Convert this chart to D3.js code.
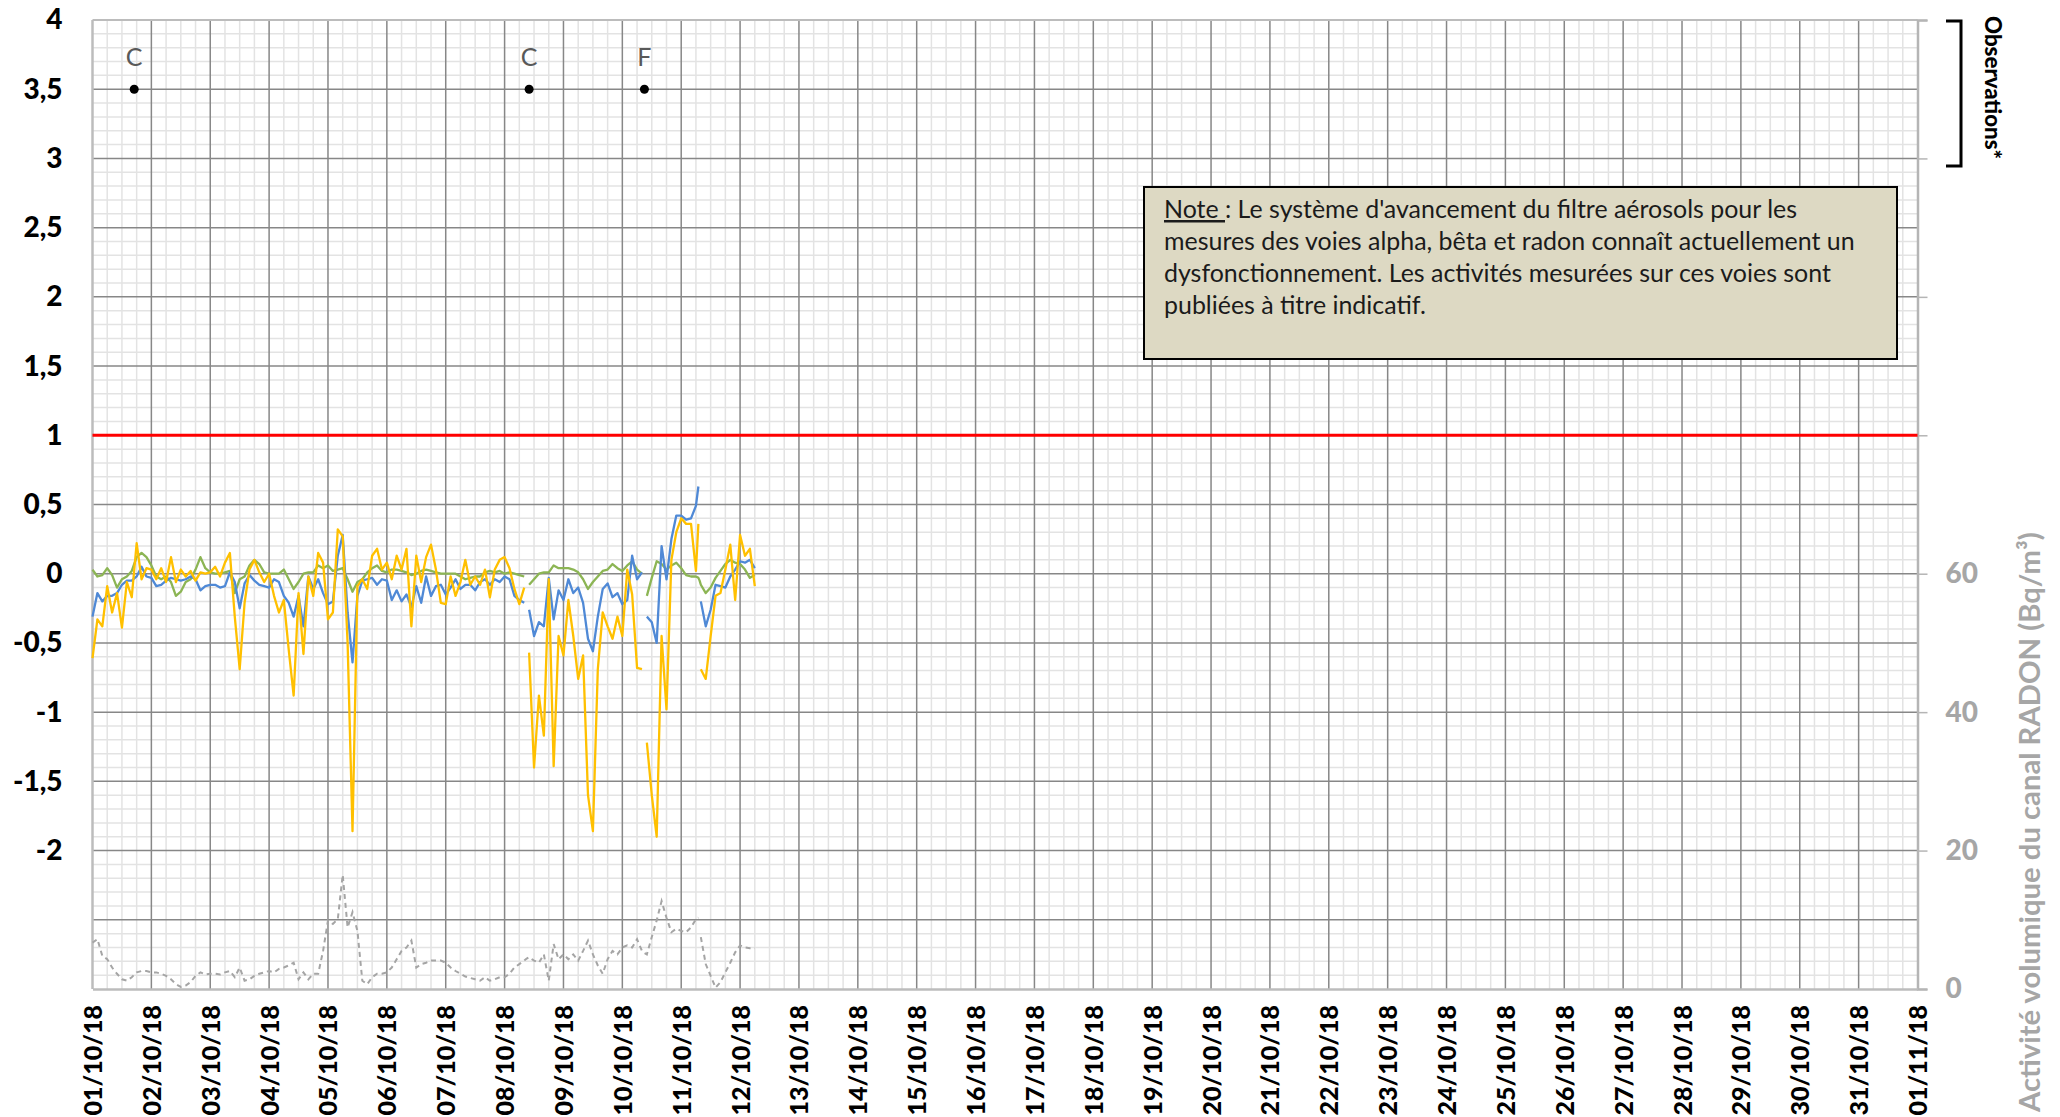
<!DOCTYPE html>
<html>
<head>
<meta charset="utf-8">
<script src="https://cdn.jsdelivr.net/npm/d3@7"></script>
<style>
  html, body { margin: 0; padding: 0; background: #ffffff; }
  svg { display: block; }
  text { font-family: Lato, "Open Sans", sans-serif; }
</style>
</head>
<body>
<svg id="chart" width="2060" height="1117"></svg>
<script>
// ---- Measurement times (hours since 01/10/18 00:00) ----
const hours = [
  0,2,4,6,8,10,12,14,16,18,20,22,24,26,28,30,32,34,36,38,40,42,44,46,48,
  50,52,54,56,58,60,62,64,66,68,70,72,74,76,78,80,82,84,86,88,90,92,94,96,
  98,100,102,104,106,108,110,112,114,116,118,120,122,124,126,128,130,132,134,136,138,140,142,144,
  146,148,150,152,154,156,158,160,162,164,166,168,170,172,174,176,177,
  178,180,182,184,186,188,190,192,194,196,198,200,202,204,206,208,210,212,214,216,218,220,222,224,225,
  226,228,230,232,234,236,238,240,242,244,246,247,247.5,
  248,250,252,254,256,258,260,262,264,266,268,270
];

// Blue channel (left axis)
const blueChannel = [
  -0.31,-0.14,-0.20,-0.16,-0.16,-0.14,-0.08,-0.05,-0.05,-0.02,0.05,-0.02,-0.03,-0.09,-0.08,-0.05,-0.03,-0.04,-0.05,-0.04,-0.02,-0.04,-0.12,-0.09,-0.08,
  -0.08,-0.10,-0.09,0.01,-0.06,-0.25,-0.07,-0.01,-0.05,-0.08,-0.09,-0.10,-0.04,-0.06,-0.16,-0.21,-0.31,-0.16,-0.38,-0.02,-0.11,-0.04,-0.14,-0.22,
  -0.20,0.13,0.28,-0.28,-0.64,-0.16,-0.05,-0.04,-0.03,-0.08,-0.04,-0.05,-0.19,-0.12,-0.20,-0.15,-0.24,-0.09,-0.21,-0.02,-0.16,-0.09,-0.08,-0.15,
  -0.10,-0.04,-0.11,-0.08,-0.08,-0.12,-0.06,-0.04,-0.08,-0.04,-0.06,-0.02,-0.04,-0.16,-0.19,-0.21,null,
  -0.26,-0.45,-0.35,-0.38,-0.03,-0.33,-0.12,-0.19,-0.04,-0.14,-0.10,-0.21,-0.47,-0.56,-0.31,-0.11,-0.07,-0.17,-0.14,-0.22,-0.19,0.13,-0.04,0.01,null,
  -0.31,-0.35,-0.50,0.20,-0.04,0.25,0.42,0.42,0.39,0.40,0.49,0.63,null,
  -0.20,-0.38,-0.26,-0.08,-0.09,-0.10,-0.02,0.03,0.09,0.08,0.10,0.04
];

// Yellow channel (left axis)
const yellowChannel = [
  -0.61,-0.33,-0.38,-0.09,-0.28,-0.14,-0.39,-0.06,-0.17,0.22,-0.04,0.04,0.03,-0.04,0.04,-0.06,0.12,-0.06,0.03,-0.02,0.02,-0.05,0.01,0.00,0.01,
  0.05,-0.02,0.08,0.15,-0.31,-0.69,-0.21,0.03,0.10,0.01,-0.06,0.00,-0.16,-0.28,-0.19,-0.55,-0.88,-0.14,-0.58,-0.02,-0.16,0.15,0.08,-0.33,
  -0.28,0.32,0.27,-0.50,-1.86,-0.09,-0.04,-0.11,0.13,0.18,0.03,0.08,-0.04,0.13,0.03,0.18,-0.38,0.13,-0.06,0.12,0.21,0.03,-0.21,-0.22,
  -0.02,-0.16,-0.06,0.10,-0.08,-0.02,-0.08,0.03,-0.17,0.03,0.10,0.12,0.04,-0.11,-0.22,-0.10,null,
  -0.57,-1.40,-0.88,-1.17,-0.04,-1.39,-0.45,-0.59,-0.19,-0.45,-0.76,-0.59,-1.60,-1.86,-0.69,-0.28,-0.38,-0.47,-0.31,-0.45,0.03,-0.15,-0.68,-0.69,null,
  -1.22,-1.60,-1.90,-0.45,-0.98,0.10,0.30,0.40,0.36,0.36,0.02,0.36,null,
  -0.69,-0.76,-0.45,-0.16,-0.14,0.03,0.21,-0.19,0.28,0.13,0.18,-0.09
];

// Green channel (left axis)
const greenChannel = [
  0.03,-0.02,-0.01,0.04,-0.01,-0.10,-0.04,-0.02,0.02,0.12,0.15,0.12,0.06,-0.02,-0.04,-0.02,-0.06,-0.16,-0.13,-0.06,-0.04,0.03,0.12,0.04,0.01,
  0.00,0.00,0.01,0.02,-0.14,-0.04,-0.02,0.06,0.10,0.07,0.01,0.00,0.00,0.00,0.03,-0.04,-0.11,-0.06,0.00,0.01,0.01,0.06,0.04,0.06,
  0.02,0.03,0.04,-0.04,-0.13,-0.06,-0.04,0.01,0.04,0.06,0.02,0.01,0.03,0.03,0.02,0.01,-0.01,0.00,0.02,0.03,0.02,0.01,0.00,0.00,
  0.00,0.00,-0.02,-0.04,-0.03,-0.02,-0.02,0.01,0.02,0.01,0.02,0.00,0.01,0.00,-0.01,-0.02,null,
  -0.08,-0.04,0.00,0.01,0.01,0.06,0.04,0.04,0.04,0.03,0.01,-0.04,-0.11,-0.06,-0.02,0.02,0.03,0.07,0.04,0.02,0.06,0.09,0.03,0.00,null,
  -0.16,-0.03,0.09,0.07,0.03,0.06,0.08,0.04,-0.01,-0.02,-0.02,-0.03,-0.05,
  -0.08,-0.14,-0.10,-0.03,0.02,0.07,0.10,0.08,0.07,0.03,-0.03,-0.01
];

// Radon channel, Bq/m³ (right axis)
const radonChannel = [
  6.7,7.2,4.8,4.3,3.1,2.2,1.4,1.2,1.7,2.4,2.6,2.6,2.4,2.4,2.2,1.9,1.4,0.7,0.3,0.5,1.0,1.9,2.4,2.1,2.2,
  2.2,2.1,2.4,2.6,1.7,3.1,1.2,1.4,1.9,2.2,2.4,2.6,2.4,2.9,3.1,3.4,3.8,1.4,2.4,1.4,2.2,2.2,5.5,9.9,
  9.4,10.1,16.5,8.9,11.1,8.4,1.2,0.7,1.7,2.2,2.2,2.4,3.1,4.3,5.5,6.0,7.0,3.1,3.6,3.8,4.1,4.1,4.1,3.8,
  3.1,2.6,2.2,1.8,1.6,1.4,1.2,1.7,1.2,1.4,1.7,1.7,2.2,3.1,3.6,4.1,4.4,
  4.6,4.1,3.8,5.0,1.2,6.5,4.3,5.0,4.3,5.0,4.1,5.5,7.0,5.0,3.4,2.2,4.3,5.5,5.0,6.0,6.3,6.0,7.2,5.5,5.2,
  5.0,7.5,9.9,12.7,10.3,8.2,8.7,8.4,8.2,8.9,10.1,10.3,null,
  7.5,3.6,1.9,0.2,1.0,2.4,3.8,5.3,6.3,6.0,5.9,5.9
];

// Axis labels and annotations
const yTickValues = [4, 3.5, 3, 2.5, 2, 1.5, 1, 0.5, 0, -0.5, -1, -1.5, -2];
const yTickLabels = ["4","3,5","3","2,5","2","1,5","1","0,5","0","-0,5","-1","-1,5","-2"];
const radonTickValues = [0, 20, 40, 60, 80, 100, 120, 140];
const radonTickLabels = ["0","20","40","60","","","",""];
const dayLabels = [
  "01/10/18","02/10/18","03/10/18","04/10/18","05/10/18","06/10/18","07/10/18","08/10/18",
  "09/10/18","10/10/18","11/10/18","12/10/18","13/10/18","14/10/18","15/10/18","16/10/18",
  "17/10/18","18/10/18","19/10/18","20/10/18","21/10/18","22/10/18","23/10/18","24/10/18",
  "25/10/18","26/10/18","27/10/18","28/10/18","29/10/18","30/10/18","31/10/18","01/11/18"
];
const observationHours = [17, 178, 225];
const observationCodes = ["C", "C", "F"];
const observationLevel = 3.5;
const thresholdLevel = 1;
const radonTitle = "Activité volumique du canal RADON (Bq/m³)";
const observationsTitle = "Observations*";
const noteLead = "Note ";
const noteLines = [
  ": Le système d'avancement du filtre aérosols pour les",
  "mesures des voies alpha, bêta et radon connaît actuellement un",
  "dysfonctionnement. Les activités mesurées sur ces voies sont",
  "publiées à titre indicatif."
];

// ---- Layout ----
const plot = { left: 92.5, right: 1917.5, top: 20, bottom: 989 };
const monthHours = 31 * 24;

const svg = d3.select("#chart");
svg.append("rect").attr("width", 2060).attr("height", 1117).attr("fill", "#ffffff");

const x = d3.scaleLinear().domain([0, monthHours]).range([plot.left, plot.right]);
const y = d3.scaleLinear().domain([-3, 4]).range([plot.bottom, plot.top]);
const yRadon = d3.scaleLinear().domain([0, 140]).range([plot.bottom, plot.top]);

// ---- Grid ----
const grid = svg.append("g");
const minorX = d3.range(0, monthHours + 1, 6).filter(h => h % 24 !== 0);
const majorX = d3.range(24, monthHours, 24);
const minorY = d3.range(-30, 41, 1).filter(k => k % 5 !== 0).map(k => k / 10);
const majorY = d3.range(-25, 40, 5).map(k => k / 10);

grid.selectAll(".vminor").data(minorX).join("line")
  .attr("x1", d => x(d)).attr("x2", d => x(d))
  .attr("y1", plot.top).attr("y2", plot.bottom)
  .attr("stroke", "#e3e3e3").attr("stroke-width", 1.5);
grid.selectAll(".hminor").data(minorY).join("line")
  .attr("x1", plot.left).attr("x2", plot.right)
  .attr("y1", d => y(d)).attr("y2", d => y(d))
  .attr("stroke", "#e3e3e3").attr("stroke-width", 1.5);
grid.selectAll(".hmajor").data(majorY).join("line")
  .attr("x1", plot.left).attr("x2", plot.right)
  .attr("y1", d => y(d)).attr("y2", d => y(d))
  .attr("stroke", "#878787").attr("stroke-width", 1.5);
grid.selectAll(".vmajor").data(majorX).join("line")
  .attr("x1", d => x(d)).attr("x2", d => x(d))
  .attr("y1", plot.top).attr("y2", plot.bottom)
  .attr("stroke", "#878787").attr("stroke-width", 1.5);

// plot frame
grid.append("line").attr("x1", plot.left).attr("x2", plot.right)
  .attr("y1", plot.top).attr("y2", plot.top)
  .attr("stroke", "#bcbcbc").attr("stroke-width", 2);
grid.append("line").attr("x1", plot.left).attr("x2", plot.left)
  .attr("y1", plot.top).attr("y2", plot.bottom)
  .attr("stroke", "#bcbcbc").attr("stroke-width", 2.5);

// ---- Axes ----
const axisFont = "Lato, 'Open Sans', sans-serif";
const axisLeft = svg.append("g").attr("transform", `translate(${plot.left},0)`)
  .call(d3.axisLeft(y).tickValues(yTickValues).tickSize(0).tickPadding(30)
    .tickFormat((d, i) => yTickLabels[i]));
axisLeft.select(".domain").remove();
axisLeft.selectAll("text")
  .attr("font-family", axisFont)
  .attr("font-size", 28).attr("font-weight", 900).attr("fill", "#000");

const axisRight = svg.append("g").attr("transform", `translate(${plot.right},0)`)
  .call(d3.axisRight(yRadon).tickValues(radonTickValues).tickSize(10).tickPadding(18)
    .tickFormat((d, i) => radonTickLabels[i]));
axisRight.select(".domain").attr("stroke", "#b5b5b5").attr("stroke-width", 2.5);
axisRight.selectAll(".tick line").attr("stroke", "#b5b5b5").attr("stroke-width", 1.5);
axisRight.selectAll("text")
  .attr("font-family", axisFont)
  .attr("font-size", 28).attr("font-weight", 900).attr("fill", "#a6a6a6");

const dayTicks = d3.range(0, monthHours + 1, 24);
const axisBottom = svg.append("g").attr("transform", `translate(0,${plot.bottom})`)
  .call(d3.axisBottom(x).tickValues(dayTicks).tickSize(0).tickFormat((d, i) => dayLabels[i]));
axisBottom.select(".domain").attr("stroke", "#bcbcbc").attr("stroke-width", 2.5);
axisBottom.selectAll("text")
  .attr("font-family", axisFont)
  .attr("font-size", 25).attr("font-weight", 900).attr("fill", "#000")
  .attr("transform", "rotate(-90)")
  .attr("text-anchor", "end")
  .attr("x", -16).attr("y", 0).attr("dy", "0.36em");

// ---- Threshold ----
svg.append("line")
  .attr("x1", plot.left).attr("x2", plot.right)
  .attr("y1", y(thresholdLevel)).attr("y2", y(thresholdLevel))
  .attr("stroke", "#ff0000").attr("stroke-width", 3);

// ---- Series ----
const rows = hours.map((h, i) => ({
  h, blue: blueChannel[i], yellow: yellowChannel[i], green: greenChannel[i], radon: radonChannel[i]
}));

function seriesLine(key, scale) {
  return d3.line()
    .defined(d => d[key] !== null && d[key] !== undefined)
    .x(d => x(d.h)).y(d => scale(d[key]));
}

svg.append("path").datum(rows)
  .attr("d", seriesLine("radon", yRadon))
  .attr("fill", "none").attr("stroke", "#a5a5a5").attr("stroke-width", 2)
  .attr("stroke-dasharray", "5,4");
svg.append("path").datum(rows)
  .attr("d", seriesLine("green", y))
  .attr("fill", "none").attr("stroke", "#8cb554").attr("stroke-width", 2.3)
  .attr("stroke-linejoin", "round");
svg.append("path").datum(rows)
  .attr("d", seriesLine("blue", y))
  .attr("fill", "none").attr("stroke", "#4f89d6").attr("stroke-width", 2.3)
  .attr("stroke-linejoin", "round");
svg.append("path").datum(rows)
  .attr("d", seriesLine("yellow", y))
  .attr("fill", "none").attr("stroke", "#ffc000").attr("stroke-width", 2.3)
  .attr("stroke-linejoin", "round");

// ---- Observations ----
const obs = svg.append("g");
obs.selectAll("circle").data(observationHours).join("circle")
  .attr("cx", d => x(d)).attr("cy", y(observationLevel)).attr("r", 4.5).attr("fill", "#000");
obs.selectAll("text").data(observationHours).join("text")
  .attr("x", d => x(d)).attr("y", y(observationLevel) - 23)
  .attr("text-anchor", "middle")
  .attr("font-size", 25).attr("fill", "#595959")
  .text((d, i) => observationCodes[i]);

svg.append("path")
  .attr("d", "M1946,21 L1961,21 L1961,166 L1946,166")
  .attr("fill", "none").attr("stroke", "#000").attr("stroke-width", 3);

function fitText(sel, target) {
  const fs = parseFloat(sel.attr("font-size"));
  const len = sel.node().getComputedTextLength();
  sel.attr("font-size", fs * target / len);
}

const obsTitle = svg.append("text")
  .attr("transform", "translate(1993,16) rotate(90)")
  .attr("text-anchor", "start").attr("dominant-baseline", "central")
  .attr("font-size", 20).attr("font-weight", 900).attr("fill", "#000")
  .text(observationsTitle);
fitText(obsTitle, 143);

const radonLabel = svg.append("text")
  .attr("transform", "translate(2028,822) rotate(-90)")
  .attr("text-anchor", "middle").attr("dominant-baseline", "central")
  .attr("font-size", 28).attr("font-weight", 700).attr("fill", "#a6a6a6")
  .text(radonTitle);
fitText(radonLabel, 580);

// ---- Note box ----
const note = svg.append("g");
note.append("rect")
  .attr("x", 1144).attr("y", 187).attr("width", 753).attr("height", 172)
  .attr("fill", "#ddd9c3").attr("stroke", "#000").attr("stroke-width", 2);

const lineText = note.selectAll("text.note").data(noteLines).join("text")
  .attr("class", "note")
  .attr("x", 1164).attr("y", (d, i) => 218 + i * 32)
  .attr("font-size", 22).attr("fill", "#1b1b1b");
lineText.each(function (d, i) {
  const t = d3.select(this);
  if (i === 0) {
    t.append("tspan").style("text-decoration", "underline").text(noteLead);
    t.append("tspan").text(d);
  } else {
    t.text(d);
  }
});
// size the note so its widest line spans the box as drawn
const probe = lineText.filter((d, i) => i === 1);
const baseSize = 22;
const probeLen = probe.node().getComputedTextLength();
lineText.attr("font-size", baseSize * 691 / probeLen);
</script>
</body>
</html>
